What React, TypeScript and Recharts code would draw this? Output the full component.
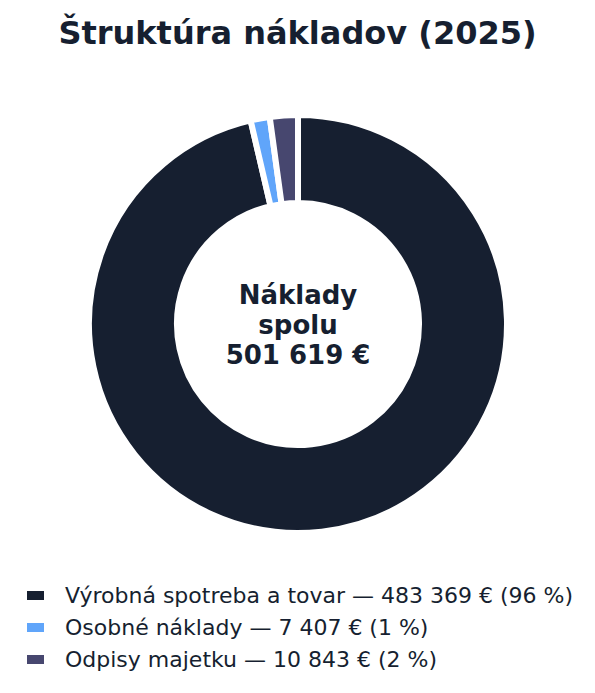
import React from "react";
import { PieChart, Pie, Cell } from "recharts";

const categories = ["Výrobná spotreba a tovar", "Osobné náklady", "Odpisy majetku"];
const values = [483369, 7407, 10843];
const shares = ["96 %", "1 %", "2 %"];
const amountLabels = ["483 369 €", "7 407 €", "10 843 €"];
const colors = ["#161f30", "#60a5fa", "#47476f"];
const title = "Štruktúra nákladov (2025)";
const centerLines = ["Náklady", "spolu", "501 619 €"];

const data = categories.map((name, i) => ({ name, value: values[i] }));

const FONT = "'DejaVu Sans', sans-serif";
const TEXT = "#161f30";

export default function App() {
  return (
    <div style={{ position: "absolute", left: 0, top: 0, width: 595, height: 693, background: "#fff", fontFamily: FONT }}>
      <div style={{ position: "absolute", left: 0, top: 13, width: 595, textAlign: "center", fontSize: 32, fontWeight: "bold", color: TEXT, lineHeight: "40px" }}>
        {title}
      </div>
      <div style={{ position: "absolute", left: 0, top: 0 }}>
        <PieChart width={595} height={560} margin={{ top: 0, right: 0, bottom: 0, left: 0 }}>
          <Pie
            data={data}
            dataKey="value"
            nameKey="name"
            cx={298}
            cy={324}
            innerRadius={121}
            outerRadius={209}
            startAngle={90}
            endAngle={-270}
            stroke="#ffffff"
            strokeWidth={6}
            isAnimationActive={false}
          >
            {data.map((d, i) => (
              <Cell key={d.name} fill={colors[i]} stroke="#ffffff" strokeWidth={6} />
            ))}
          </Pie>
          <text x={298} y={324} textAnchor="middle" fontFamily={FONT} fontWeight="bold" fontSize={26} fill={TEXT}>
            {centerLines.map((l, i) => (
              <tspan key={i} x={298} y={304 + i * 30}>
                {l}
              </tspan>
            ))}
          </text>
        </PieChart>
      </div>
      <div style={{ position: "absolute", left: 27, top: 579 }}>
        {categories.map((c, i) => (
          <div key={c} style={{ display: "flex", alignItems: "center", height: 32, fontSize: 22, color: TEXT }}>
            <span style={{ display: "inline-block", width: 17, height: 9, background: colors[i], marginRight: 21 }} />
            <span>{`${c} — ${amountLabels[i]} (${shares[i]})`}</span>
          </div>
        ))}
      </div>
    </div>
  );
}
